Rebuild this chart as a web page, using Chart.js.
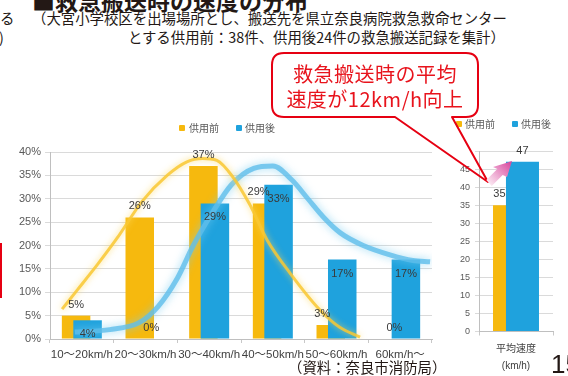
<!DOCTYPE html>
<html lang="ja">
<head>
<meta charset="utf-8">
<script src="https://cdn.jsdelivr.net/npm/chart.js@4/dist/chart.umd.min.js"></script>
<style>
  body { margin: 0; width: 568px; height: 376px; position: relative; overflow: hidden; background: #fff;
         font-family: 'Noto Sans CJK JP', sans-serif; color: #231815; }
  .abs { position: absolute; white-space: nowrap; }
  .title { left: 32px; top: -11px; font-size: 23px; line-height: 22px; font-weight: bold; }
  .note { font-size: 14.4px; line-height: 18px; }
  .callout-text { left: 272px; top: 61px; width: 206px; text-align: center; font-size: 20px; line-height: 25px;
                  color: #e8131c; letter-spacing: 0.5px; }
  .key { font-size: 10px; line-height: 14px; color: #595959; }
  .mark { width: 6px; height: 6px; border-radius: 1px; }
  canvas { position: absolute; }
</style>
</head>
<body>
<div class="abs title">■救急搬送時の速度の分布</div>
<div class="abs note" style="left:0; top:9px;">る</div>
<div class="abs note" style="left:-1px; top:28px;">)</div>
<div class="abs note" style="left:32px; top:9px;">（大宮小学校区を出場場所とし、搬送先を県立奈良病院救急救命センター</div>
<div class="abs note" style="left:128px; top:28px;">とする供用前：38件、供用後24件の救急搬送記録を集計）</div>
<div class="abs" style="left:0; top:243px; width:2px; height:55px; background:#e60012;"></div>

<canvas id="share" width="440" height="226" style="left:0; top:140px;"></canvas>
<canvas id="trend" width="440" height="226" style="left:0; top:140px;"></canvas>
<canvas id="average" width="128" height="236" style="left:440px; top:140px;"></canvas>

<!-- legends -->
<div class="abs mark" style="left:179px; top:125px; background:#f6b90e;"></div>
<div class="abs key" style="left:189px; top:121px;">供用前</div>
<div class="abs mark" style="left:236px; top:125px; background:#1fa2dd;"></div>
<div class="abs key" style="left:245px; top:121px;">供用後</div>
<div class="abs mark" style="left:456px; top:121px; background:#f6b90e;"></div>
<div class="abs key" style="left:465px; top:117px;">供用前</div>
<div class="abs mark" style="left:512px; top:121px; background:#1fa2dd;"></div>
<div class="abs key" style="left:521px; top:117px;">供用後</div>

<!-- speech bubble and rise arrow -->
<svg class="abs" style="left:0; top:0;" width="568" height="376">
  <defs>
    <linearGradient id="rise" x1="489" y1="183" x2="512" y2="161" gradientUnits="userSpaceOnUse">
      <stop offset="0" stop-color="#fbe6f1"/>
      <stop offset="1" stop-color="#d6409a"/>
    </linearGradient>
  </defs>
  <rect x="272" y="53" width="206" height="64" rx="12" fill="#fff"/>
  <path d="M395,117 H284 Q272,117 272,105 V65 Q272,53 284,53 H466 Q478,53 478,65 V105 Q478,117 466,117 H452 L488,182 Z"
        fill="none" stroke="#e60012" stroke-width="2" stroke-linejoin="round"/>
  <polygon points="486.3,180.1 497.3,169.1 493,167 512,161 507,177 502.7,174.9 491.7,185.9" fill="url(#rise)"/>
</svg>
<div class="abs callout-text">救急搬送時の平均<br>速度が12km/h向上</div>

<div class="abs note" style="left:288px; top:358px;">（資料：奈良市消防局）</div>
<div class="abs" style="left:551px; top:351px; font-family:'Liberation Sans', sans-serif; font-size:26px; line-height:26px;">15</div>

<script>
const speedBands = ['10～20km/h', '20～30km/h', '30～40km/h', '40～50km/h', '50～60km/h', '60km/h～'];
const beforeShare = [5, 26, 37, 29, 3, 0];
const afterShare = [4, 0, 29, 33, 17, 17];

// smoothed trend curves, x in band units (0 = first band)
const beforeTrend = [
  { x: -0.31, y: 6.4 }, { x: -0.07, y: 10.5 }, { x: 0.25, y: 16 }, { x: 0.55, y: 21.5 },
  { x: 0.95, y: 29.5 }, { x: 1.34, y: 35 }, { x: 1.65, y: 37.9 }, { x: 1.9, y: 38.6 },
  { x: 2.12, y: 38.2 }, { x: 2.37, y: 34.7 }, { x: 2.64, y: 28.7 }, { x: 2.91, y: 21.2 },
  { x: 3.27, y: 14.1 }, { x: 3.74, y: 6.2 }, { x: 4.05, y: 2.5 }, { x: 4.37, y: 0.4 }
];
const afterTrend = [
  { x: -0.11, y: 1.5 }, { x: 0.44, y: 2 }, { x: 0.9, y: 3.5 }, { x: 1.2, y: 7 },
  { x: 1.5, y: 13 }, { x: 1.75, y: 20 }, { x: 2.05, y: 27 }, { x: 2.35, y: 33 },
  { x: 2.7, y: 36.5 }, { x: 3.0, y: 37 }, { x: 3.3, y: 34 }, { x: 3.55, y: 30 },
  { x: 3.8, y: 26 }, { x: 4.06, y: 22.7 }, { x: 4.42, y: 20 }, { x: 4.84, y: 18 },
  { x: 5.2, y: 16.8 }, { x: 5.47, y: 16.5 }
];

const avgLabels = [['平均速度', '(km/h)']];
const beforeAvg = [35];
const afterAvg = [47];

const YELLOW = '#f6b90e';
const BLUE = '#1fa2dd';
const TICK_FONT = "'Liberation Sans', 'Noto Sans CJK JP', sans-serif";

// blue bars go in front of the yellow ones
const frontBars = {
  id: 'frontBars',
  beforeDatasetDraw(chart, args) {
    if (args.index === 1) return false;
  },
  afterDatasetDraw(chart, args) {
    if (args.index === 0) chart.getDatasetMeta(1).controller.draw();
  }
};

// soft halo around the trend curves
const glow = {
  id: 'glow',
  beforeDatasetDraw(chart, args) {
    const ds = chart.data.datasets[args.index];
    chart.ctx.save();
    chart.ctx.shadowColor = ds.glow;
    chart.ctx.shadowBlur = ds.glowSize;
  },
  afterDatasetDraw(chart) {
    chart.ctx.restore();
  }
};

// value text for each bar of barChart, drawn onto ctx
function drawValueLabels(ctx, barChart, suffix, inside) {
  const front = barChart.getDatasetMeta(1);
  ctx.save();
  ctx.font = '11px ' + TICK_FONT;
  ctx.fillStyle = '#3a3a3a';
  ctx.textAlign = 'center';
  ctx.textBaseline = 'middle';
  [0, 1].forEach(di => {
    const values = barChart.data.datasets[di].data;
    barChart.getDatasetMeta(di).data.forEach((bar, i) => {
      const v = values[i];
      let x = bar.x;
      let y;
      if (v === 0) y = bar.base - 11;
      else if (di === 1 && inside) y = bar.y + 14;
      else y = bar.y - 11;
      // yellow label sits over the part not hidden by the blue bar
      if (di === 0 && v > 0 && barChart.data.datasets[1].data[i] >= v) {
        const b = front.data[i];
        x = (bar.x - bar.width / 2 + b.x - b.width / 2) / 2;
      }
      ctx.fillText(v + suffix, x, y);
    });
  });
  ctx.restore();
}

function barSet(label, data, color, catPct, barPct) {
  return {
    label, data,
    backgroundColor: color,
    borderWidth: 0,
    categoryPercentage: catPct,
    barPercentage: barPct
  };
}

function trendSet(data, color, halo, width, glowSize) {
  return {
    data,
    borderColor: color,
    borderWidth: width,
    pointRadius: 0,
    cubicInterpolationMode: 'monotone',
    glow: halo, glowSize
  };
}

const shareY = { min: 0, max: 40 };

const shareChart = new Chart(document.getElementById('share'), {
  type: 'bar',
  data: {
    labels: speedBands,
    datasets: [
      barSet('供用前', beforeShare, YELLOW, 0.361, 2.48),
      barSet('供用後', afterShare, BLUE, 0.361, 2.48)
    ]
  },
  options: {
    responsive: false,
    animation: false,
    layout: { padding: { top: 12, right: 8, left: 0, bottom: 0 } },
    plugins: { legend: { display: false }, tooltip: { enabled: false } },
    scales: {
      x: {
        grid: { drawOnChartArea: false, tickLength: 4, color: '#c8c8c8' },
        border: { color: '#bfbfbf' },
        ticks: {
          autoSkip: false, minRotation: 0, maxRotation: 0, padding: 5,
          color: '#404040', font: { family: TICK_FONT, size: 11.5 }
        },
        afterFit: s => { s.height = 27; }
      },
      y: {
        ...shareY,
        grid: { color: '#dadada', tickLength: 5 },
        border: { color: '#bfbfbf' },
        ticks: {
          stepSize: 5, padding: 4, color: '#595959',
          font: { family: TICK_FONT, size: 11 },
          callback: v => v + '%'
        },
        afterFit: s => { s.width = 50; }
      }
    }
  },
  plugins: [frontBars]
});

// trend curves on a transparent layer with the same plot area; the bar values go on top
new Chart(document.getElementById('trend'), {
  type: 'line',
  data: {
    datasets: [
      trendSet(beforeTrend, 'rgba(249,200,50,0.85)', 'rgba(252,215,90,0.9)', 3, 6),
      trendSet(afterTrend, 'rgba(95,190,235,0.8)', 'rgba(120,205,240,0.9)', 5, 8)
    ]
  },
  options: {
    responsive: false,
    animation: false,
    layout: { padding: { top: 12, right: 8, left: 0, bottom: 0 } },
    plugins: { legend: { display: false }, tooltip: { enabled: false } },
    scales: {
      x: {
        type: 'linear', min: -0.5, max: 5.5,
        grid: { display: false }, border: { display: false }, ticks: { display: false },
        afterFit: s => { s.height = 27; }
      },
      y: {
        ...shareY,
        grid: { display: false }, border: { display: false }, ticks: { display: false },
        afterFit: s => { s.width = 50; }
      }
    }
  },
  plugins: [glow, {
    id: 'shareLabels',
    afterDatasetsDraw: chart => drawValueLabels(chart.ctx, shareChart, '%', true)
  }]
});

new Chart(document.getElementById('average'), {
  type: 'bar',
  data: {
    labels: avgLabels,
    datasets: [
      barSet('供用前', beforeAvg, YELLOW, 0.35, 2.55),
      barSet('供用後', afterAvg, BLUE, 0.35, 2.55)
    ]
  },
  options: {
    responsive: false,
    animation: false,
    layout: { padding: { top: 11, right: 15, left: 0, bottom: 0 } },
    plugins: { legend: { display: false }, tooltip: { enabled: false } },
    scales: {
      x: {
        grid: { drawOnChartArea: false, tickLength: 4, color: '#c8c8c8' },
        border: { color: '#bfbfbf' },
        ticks: {
          minRotation: 0, maxRotation: 0, padding: 5, color: '#404040',
          font: { family: TICK_FONT, size: 10, lineHeight: 1.7 }
        },
        afterFit: s => { s.height = 44.5; }
      },
      y: {
        min: 0, max: 50,
        grid: { color: '#dadada', tickLength: 4 },
        border: { color: '#bfbfbf' },
        ticks: {
          stepSize: 5, padding: 5, color: '#595959',
          font: { family: TICK_FONT, size: 9 },
          callback: v => (v === 50 ? '' : v)
        },
        afterFit: s => { s.width = 39; }
      }
    }
  },
  plugins: [frontBars, {
    id: 'avgLabels',
    afterDatasetsDraw: chart => drawValueLabels(chart.ctx, chart, '', false)
  }]
});
</script>
</body>
</html>
